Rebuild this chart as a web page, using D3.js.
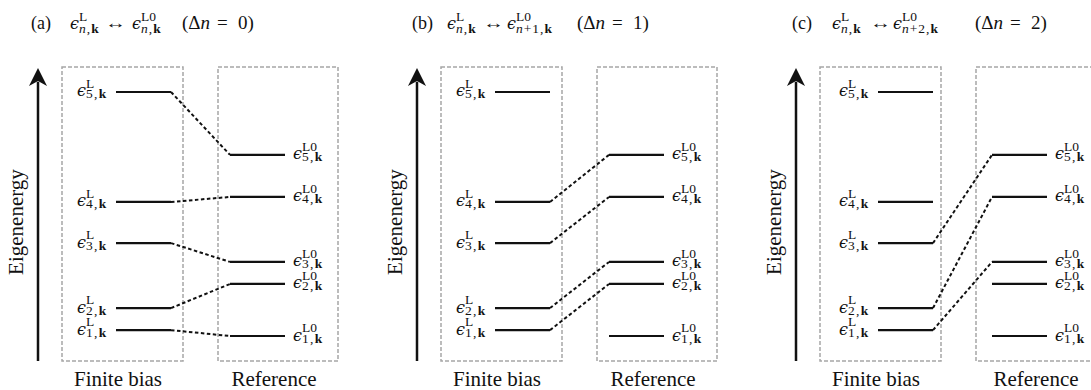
<!DOCTYPE html>
<html lang="en">
  <head>
    <meta charset="UTF-8" />
    <title>Eigenenergy level matching</title>
    <style>
      html, body { margin: 0; padding: 0; background: #fff; }
      svg { display: block; }
      text { font-family: "Liberation Serif", "DejaVu Serif", serif; fill: #111; }
    </style>
  </head>
  <body>
    <svg id="chart" width="1091" height="390"></svg>

    <script src="https://d3js.org/d3.v7.min.js"></script>
    <script>
      // level energies (arbitrary units)
      const levelIndex = [1, 2, 3, 4, 5];
      const finiteBias = [1.05, 1.8, 4.01, 5.41, 9.15];
      const reference = [0.85, 2.62, 3.37, 5.58, 7.01];
      const panelLetters = ["(a)", "(b)", "(c)"];
      const bandShift = [0, 1, 2];
      const boxLabels = ["Finite bias", "Reference"];
      const axisLabel = "Eigenenergy";

      const svg = d3.select("#chart");

      const y = d3.scaleLinear().domain([0, 10]).range([361, 67]);

      // layout of each panel: arrow x, extra shift of the levels, title pieces
      const panelX = [38, 417, 796];
      const levelNudge = [0, 0, 4];
      const titleX = [
        { letter: 31, e1: 70, arrow: 105, e2: 132, delta: 182 },
        { letter: 412, e1: 447, arrow: 483, e2: 507, delta: 577 },
        { letter: 792, e1: 832, arrow: 870, e2: 893, delta: 975 },
      ];

      // epsilon with stacked super/subscript, all in one text element
      function epsLabel(g, x, y0, sup, sub, o) {
        const t = g.append("text");
        t.append("tspan")
          .attr("x", x)
          .attr("y", y0 + o.dy)
          .attr("font-family", "DejaVu Serif")
          .attr("font-style", "italic")
          .attr("font-size", o.size)
          .text("\u03f5");
        t.append("tspan")
          .attr("x", x + o.gap)
          .attr("y", y0 + o.supDy)
          .attr("font-size", o.small)
          .text(sup);
        sub.forEach(([s, st], i) => {
          const ts = t
            .append("tspan")
            .attr("font-size", o.small)
            .attr("letter-spacing", o.ls)
            .attr("font-style", st === "i" ? "italic" : null)
            .attr("font-weight", st === "b" ? "bold" : null)
            .text(s);
          if (i === 0) ts.attr("x", x + o.gap).attr("y", y0 + o.subDy);
        });
      }

      const levelOpt = { size: 16, small: 13.5, gap: 9, dy: 4.5, supDy: -4, subDy: 6.5, ls: 1.3 };
      const titleOpt = { size: 16, small: 13.5, gap: 9, dy: 29, supDy: 21, subDy: 32.5, ls: 1 };

      panelLetters.forEach((letter, p) => {
        const ox = panelX[p];
        const nx = levelNudge[p];
        const shift = bandShift[p];
        const g = svg.append("g");
        const tx = titleX[p];

        // title
        g.append("text").attr("x", tx.letter).attr("y", 29).attr("font-size", 18).text(letter);
        epsLabel(g, tx.e1, 0, "L", [["n", "i"], [","], ["k", "b"]], titleOpt);
        g.append("text")
          .attr("x", tx.arrow)
          .attr("y", 28)
          .attr("font-family", "DejaVu Sans")
          .attr("font-size", 15)
          .attr("textLength", 21)
          .attr("lengthAdjust", "spacingAndGlyphs")
          .text("\u2194");
        const sub2 = shift ? [["n", "i"], ["+" + shift + ","], ["k", "b"]] : [["n", "i"], [","], ["k", "b"]];
        epsLabel(g, tx.e2, 0, "L0", sub2, titleOpt);
        const dt = g.append("text").attr("y", 29).attr("font-size", 19);
        dt.append("tspan").attr("x", tx.delta).text("(\u0394");
        dt.append("tspan").attr("font-style", "italic").text("n");
        dt.append("tspan").attr("x", tx.delta + 35).text("=");
        dt.append("tspan").attr("x", tx.delta + 56).text(shift + ")");

        // energy axis arrow
        g.append("line")
          .attr("x1", ox)
          .attr("x2", ox)
          .attr("y1", y(0))
          .attr("y2", y(9.5))
          .attr("stroke", "#111")
          .attr("stroke-width", 2.5);
        g.append("path")
          .attr("d", `M${ox},68 L${ox + 9},86 L${ox},81 L${ox - 9},86 Z`)
          .attr("fill", "#111");
        g.append("text")
          .attr("transform", `translate(${ox - 15},222) rotate(-90)`)
          .attr("text-anchor", "middle")
          .attr("font-size", 21)
          .text(axisLabel);

        // dashed boxes
        const boxes = [
          [ox + 24, ox + 145],
          [ox + 180, ox + 300],
        ];
        boxes.forEach(([x0, x1], i) => {
          g.append("rect")
            .attr("x", x0)
            .attr("y", y(10))
            .attr("width", x1 - x0)
            .attr("height", y(0) - y(10))
            .attr("fill", "none")
            .attr("stroke", "#a6a6a6")
            .attr("stroke-width", 1.5)
            .attr("stroke-dasharray", "4,2");
          g.append("text")
            .attr("x", i === 0 ? ox + 80 : ox + 236 + nx)
            .attr("y", 386)
            .attr("text-anchor", "middle")
            .attr("font-size", 21)
            .text(boxLabels[i]);
        });

        const fx0 = ox + 78 + nx,
          fx1 = ox + 133 + nx,
          rx0 = ox + 192 + nx,
          rx1 = ox + 247 + nx;

        // connectors: finite level n -> reference level n + shift
        const pairs = levelIndex
          .filter((n) => n + shift <= levelIndex.length)
          .map((n) => [finiteBias[n - 1], reference[n + shift - 1]]);
        g.selectAll(".link")
          .data(pairs)
          .join("line")
          .attr("x1", fx1)
          .attr("y1", (d) => y(d[0]))
          .attr("x2", rx0)
          .attr("y2", (d) => y(d[1]))
          .attr("stroke", "#111")
          .attr("stroke-width", 2)
          .attr("stroke-dasharray", "3.5,2.5");

        // levels
        g.selectAll(".fin")
          .data(finiteBias)
          .join("line")
          .attr("x1", fx0)
          .attr("x2", fx1)
          .attr("y1", (d) => y(d))
          .attr("y2", (d) => y(d))
          .attr("stroke", "#111")
          .attr("stroke-width", 2.2);
        g.selectAll(".ref")
          .data(reference)
          .join("line")
          .attr("x1", rx0)
          .attr("x2", rx1)
          .attr("y1", (d) => y(d))
          .attr("y2", (d) => y(d))
          .attr("stroke", "#111")
          .attr("stroke-width", 2.2);

        levelIndex.forEach((n, i) => {
          const k = [[n + ","], ["k", "b"]];
          epsLabel(g, fx0 - 39, y(finiteBias[i]), "L", k, levelOpt);
          epsLabel(g, rx1 + 8, y(reference[i]), "L0", k, levelOpt);
        });
      });
    </script>
  </body>
</html>
